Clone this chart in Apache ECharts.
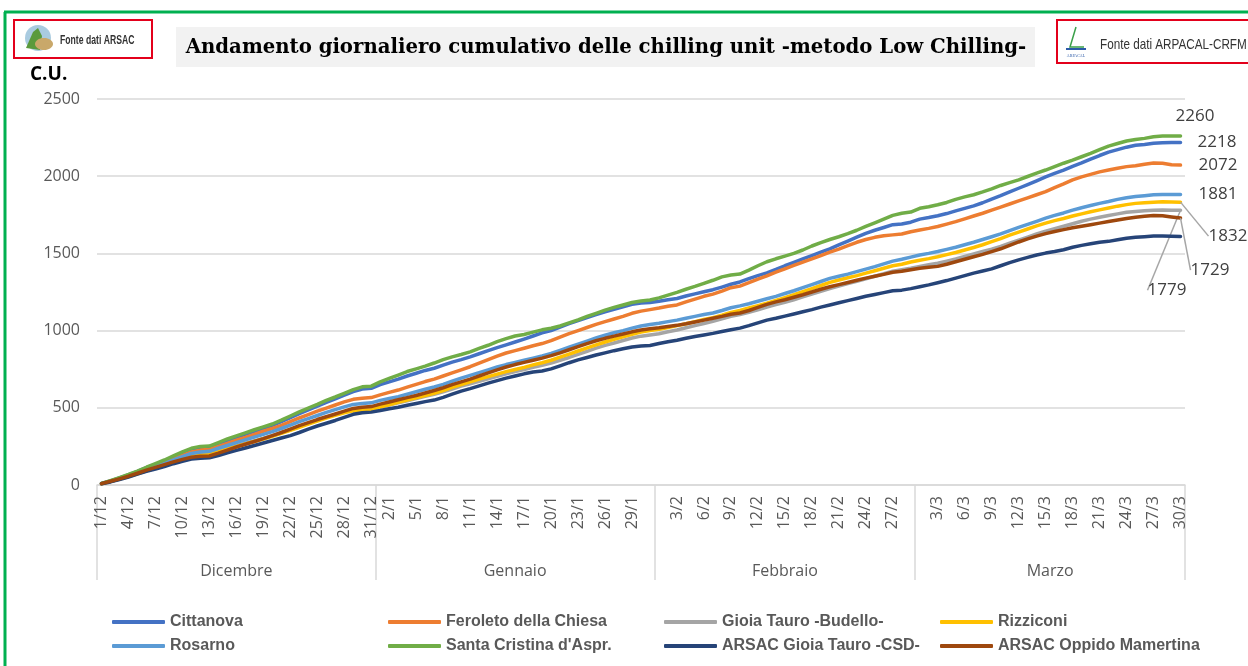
<!DOCTYPE html>
<html>
<head>
<meta charset="UTF-8">
<title>Chilling unit - Low Chilling</title>
<style>
  html, body { margin: 0; padding: 0; background: #fff; }
  #main { width: 1248px; height: 666px; }
</style>
</head>
<body>
<div id="main"></div>
<script src="https://cdn.jsdelivr.net/npm/echarts@6.0.0/dist/echarts.min.js"></script>
<script>
// mesi dell'asse X (etichette di gruppo)
var monthNames = ['Dicembre', 'Gennaio', 'Febbraio', 'Marzo'];
var monthNums = [12, 1, 2, 3];
var monthDays = [31, 31, 29, 30];

// etichette giornaliere visibili sull'asse
var tickLabels = [
  '1/12', '4/12', '7/12', '10/12', '13/12', '16/12', '19/12', '22/12', '25/12', '28/12', '31/12',
  '2/1', '5/1', '8/1', '11/1', '14/1', '17/1', '20/1', '23/1', '26/1', '29/1',
  '3/2', '6/2', '9/2', '12/2', '15/2', '18/2', '21/2', '24/2', '27/2',
  '3/3', '6/3', '9/3', '12/3', '15/3', '18/3', '21/3', '24/3', '27/3', '30/3'
];

var stationNames = [
  'Cittanova', 'Feroleto della Chiesa', 'Gioia Tauro -Budello-', 'Rizziconi',
  'Rosarno', "Santa Cristina d'Aspr.", 'ARSAC Gioia Tauro -CSD-', 'ARSAC Oppido Mamertina'
];

// chilling unit cumulative (1/12 -> 30/3)
var cittanova = [
  10, 27, 46, 66, 88, 112, 134, 157, 182, 206, 230, 242, 244, 266, 288, 308, 328, 348, 366, 386, 410, 436, 462, 486, 510, 535, 558, 582, 605, 622, 626,
  650, 668, 686, 706, 724, 742, 756, 776, 796, 812, 830, 850, 870, 890, 908, 926, 945, 965, 985, 1000, 1022, 1045, 1065, 1085, 1103, 1122, 1138, 1154, 1170, 1178, 1182,
  1190, 1200, 1208, 1224, 1238, 1252, 1265, 1282, 1300, 1315, 1336, 1356, 1374, 1396, 1420, 1442, 1464, 1486, 1508, 1530, 1555, 1580, 1605, 1630, 1650, 1668, 1686, 1690, 1702,
  1722, 1732, 1744, 1758, 1775, 1792, 1808, 1828, 1852, 1874, 1898, 1922, 1946, 1970, 1995, 2018, 2040, 2064, 2086, 2110, 2134, 2156, 2172, 2188, 2200, 2206, 2214, 2216, 2218, 2218
];
var feroleto = [
  9, 25, 43, 62, 82, 104, 125, 146, 170, 192, 214, 226, 230, 250, 270, 290, 308, 328, 348, 366, 386, 410, 434, 456, 478, 498, 518, 538, 555, 562, 566,
  584, 600, 615, 634, 652, 670, 686, 706, 726, 746, 766, 790, 812, 835, 855, 870, 886, 902, 916, 935, 958, 980, 1000, 1020, 1040, 1058, 1075, 1092, 1112, 1126, 1136,
  1146, 1158, 1166, 1186, 1204, 1222, 1236, 1256, 1278, 1288, 1310, 1334, 1354, 1378, 1400, 1422, 1444, 1464, 1486, 1508, 1528, 1550, 1572, 1590, 1604, 1614, 1620, 1626, 1640,
  1652, 1662, 1674, 1690, 1706, 1724, 1742, 1760, 1780, 1800, 1820, 1840, 1860, 1880, 1900, 1926, 1950, 1976, 1996, 2012, 2028, 2040, 2052, 2062, 2068, 2078, 2085, 2084, 2074, 2072
];
var budello = [
  8, 22, 39, 56, 74, 93, 112, 130, 150, 169, 188, 197, 200, 218, 236, 254, 270, 286, 302, 320, 338, 358, 378, 398, 418, 438, 456, 474, 486, 490, 494,
  508, 520, 532, 546, 560, 574, 588, 604, 622, 640, 656, 672, 688, 704, 720, 734, 748, 762, 776, 790, 808, 826, 846, 866, 886, 904, 920, 936, 952, 964, 972,
  980, 992, 1004, 1018, 1032, 1046, 1060, 1076, 1092, 1104, 1118, 1134, 1152, 1168, 1184, 1200, 1218, 1236, 1254, 1272, 1288, 1304, 1320, 1336, 1352, 1368, 1384, 1394, 1404,
  1416, 1426, 1436, 1450, 1464, 1480, 1496, 1512, 1528, 1546, 1566, 1586, 1606, 1626, 1644, 1660, 1676, 1692, 1708, 1722, 1734, 1746, 1756, 1766, 1772, 1776, 1779, 1781, 1780, 1779
];
var rizziconi = [
  8, 22, 38, 55, 73, 92, 110, 128, 148, 166, 184, 193, 196, 214, 232, 250, 266, 282, 298, 315, 334, 354, 374, 394, 414, 434, 452, 468, 480, 484, 488,
  505, 520, 535, 550, 565, 580, 594, 612, 632, 650, 668, 686, 702, 718, 734, 748, 762, 778, 792, 808, 828, 848, 868, 888, 908, 926, 944, 960, 976, 990, 1000,
  1008, 1020, 1032, 1044, 1058, 1072, 1084, 1100, 1118, 1130, 1146, 1162, 1178, 1196, 1214, 1232, 1252, 1272, 1292, 1312, 1328, 1342, 1356, 1372, 1388, 1404, 1420, 1430, 1444,
  1456, 1466, 1478, 1492, 1506, 1522, 1538, 1556, 1576, 1596, 1618, 1638, 1658, 1678, 1696, 1712, 1726, 1742, 1756, 1770, 1782, 1794, 1806, 1816, 1824, 1828, 1832, 1834, 1833, 1832
];
var rosarno = [
  9, 25, 42, 60, 80, 100, 120, 140, 162, 183, 204, 214, 218, 238, 256, 274, 292, 310, 328, 346, 366, 388, 410, 430, 450, 470, 488, 506, 522, 528, 532,
  548, 560, 572, 588, 604, 620, 635, 652, 672, 692, 710, 728, 746, 764, 780, 794, 808, 822, 836, 852, 872, 892, 912, 932, 952, 970, 986, 1000, 1016, 1030, 1040,
  1048, 1058, 1068, 1080, 1092, 1104, 1114, 1130, 1148, 1160, 1174, 1190, 1206, 1222, 1240, 1258, 1278, 1298, 1318, 1338, 1352, 1366, 1382, 1398, 1414, 1432, 1450, 1462, 1476,
  1490, 1500, 1512, 1526, 1540, 1556, 1572, 1590, 1608, 1626, 1648, 1668, 1688, 1708, 1728, 1746, 1762, 1780, 1796, 1810, 1824, 1836, 1850, 1860, 1868, 1874, 1880, 1882, 1881, 1881
];
var santaCristina = [
  10, 28, 48, 68, 90, 115, 138, 162, 188, 214, 238, 250, 252, 275, 298, 318, 338, 358, 376, 395, 420, 447, 474, 498, 522, 548, 570, 594, 618, 636, 640,
  668, 690, 712, 735, 752, 770, 790, 812, 830, 845, 862, 885, 905, 928, 948, 965, 975, 990, 1005, 1015, 1030, 1050, 1070, 1092, 1112, 1133, 1150, 1166, 1182, 1192, 1198,
  1212, 1230, 1248, 1268, 1286, 1306, 1326, 1348, 1360, 1366, 1392, 1420, 1446, 1465, 1482, 1500, 1522, 1548, 1570, 1590, 1608, 1628, 1650, 1675, 1698, 1722, 1746, 1760, 1768,
  1792, 1802, 1815, 1830, 1850, 1866, 1880, 1898, 1918, 1940, 1958, 1976, 1998, 2020, 2040, 2062, 2084, 2104, 2126, 2148, 2172, 2195, 2212, 2228, 2238, 2245, 2256, 2260, 2260, 2260
];
var gioiaCsd = [
  8, 20, 36, 52, 70, 88, 104, 120, 138, 154, 168, 174, 176, 190, 208, 224, 240, 256, 272, 288, 304, 320, 340, 362, 382, 400, 418, 438, 458, 468, 472,
  482, 494, 504, 516, 528, 540, 550, 568, 588, 608, 624, 642, 660, 676, 692, 706, 720, 732, 738, 752, 772, 792, 810, 826, 842, 856, 870, 882, 894, 900, 904,
  916, 928, 938, 950, 962, 972, 982, 994, 1006, 1016, 1032, 1050, 1068, 1080, 1094, 1108, 1122, 1136, 1152, 1166, 1180, 1194, 1208, 1222, 1234, 1246, 1258, 1262, 1272,
  1284, 1296, 1310, 1324, 1340, 1356, 1372, 1386, 1400, 1420, 1440, 1458, 1474, 1490, 1502, 1512, 1524, 1540, 1552, 1562, 1572, 1578, 1588, 1598, 1604, 1608, 1612, 1612, 1611, 1610
];
var oppido = [
  9, 24, 40, 57, 76, 96, 114, 132, 150, 166, 180, 186, 188, 206, 226, 246, 264, 282, 300, 320, 340, 362, 384, 404, 424, 442, 460, 478, 496, 504, 508,
  524, 538, 552, 566, 580, 596, 612, 630, 650, 668, 686, 706, 726, 746, 764, 780, 794, 808, 822, 838, 856, 876, 896, 916, 934, 950, 964, 978, 992, 1004, 1012,
  1018, 1026, 1034, 1044, 1056, 1068, 1080, 1092, 1106, 1114, 1130, 1150, 1170, 1186, 1200, 1216, 1232, 1250, 1268, 1284, 1298, 1312, 1326, 1340, 1352, 1364, 1378, 1384, 1394,
  1404, 1410, 1416, 1430, 1446, 1462, 1478, 1494, 1512, 1530, 1552, 1574, 1594, 1612, 1628, 1642, 1654, 1666, 1676, 1686, 1696, 1706, 1716, 1726, 1734, 1740, 1745, 1744, 1736, 1729
];

var seriesValues = [cittanova, feroleto, budello, rizziconi, rosarno, santaCristina, gioiaCsd, oppido];
var seriesColors = ['#4472C4', '#ED7D31', '#A5A5A5', '#FFC000', '#5B9BD5', '#70AD47', '#264478', '#9E480E'];

// categorie giornaliere d/m
var days = [];
for (var m = 0; m < monthNames.length; m++) {
  for (var d = 1; d <= monthDays[m]; d++) {
    days.push(d + '/' + monthNums[m]);
  }
}

// confini e centri dei mesi sull'asse ausiliario
var monthEdges = [0];
var monthCenters = [];
for (var k = 0; k < monthDays.length; k++) {
  monthCenters.push(monthEdges[k] + monthDays[k] / 2);
  monthEdges.push(monthEdges[k] + monthDays[k]);
}

// posizione etichette finali (offset semplice o con linea guida)
var endLabelCfg = [
  { offset: [12, 0] },
  { offset: [13, 0] },
  { layout: { dx: -38, dy: 80 } },
  { layout: { dx: 23, dy: 34 } },
  { offset: [13, 0] },
  { offset: [-10, -20] },
  null,
  { layout: { dx: 5, dy: 52 } }
];

var series = [];
stationNames.forEach(function (name, i) {
  var vals = seriesValues[i];
  var data = vals.map(function (v, j) {
    if (j === vals.length - 1 && endLabelCfg[i]) {
      return { value: v, label: { show: true, position: 'right', offset: endLabelCfg[i].offset || [0, 0] } };
    }
    return v;
  });
  var s = {
    name: name,
    type: 'line',
    data: data,
    symbol: 'circle',
    symbolSize: 0,
    showSymbol: true,
    showAllSymbol: true,
    smooth: false,
    color: seriesColors[i],
    lineStyle: { width: 3.5, color: seriesColors[i], cap: 'round', join: 'round' },
    label: { show: false, color: '#404040', fontSize: 17, fontFamily: 'Open Sans' },
    emphasis: { disabled: true },
    z: 2 + i
  };
  if (endLabelCfg[i] && endLabelCfg[i].layout) {
    s.labelLayout = endLabelCfg[i].layout;
    s.labelLine = { show: true, lineStyle: { color: '#a6a6a6', width: 1.5 } };
  }
  series.push(s);
});

// legenda su due righe, quattro colonne
var legendCols = [112, 388, 664, 940];
var legendRows = [614, 638];
var legends = stationNames.map(function (name, i) {
  return {
    data: [name],
    left: legendCols[i % 4],
    top: legendRows[Math.floor(i / 4)],
    padding: 0,
    icon: 'roundRect',
    itemWidth: 53,
    itemHeight: 4,
    selectedMode: false,
    textStyle: { fontFamily: 'Liberation Sans', fontWeight: 'bold', fontSize: 16, color: '#595959' }
  };
});

var chart = echarts.init(document.getElementById('main'), null, { renderer: 'canvas' });

var option = {
  animation: false,
  backgroundColor: '#fff',
  grid: { left: 97, right: 63, top: 99, bottom: 181, containLabel: false, outerBoundsMode: 'none' },
  legend: legends,
  xAxis: [{
    type: 'category',
    data: days,
    boundaryGap: true,
    axisLine: { lineStyle: { color: '#d9d9d9', width: 1.5 } },
    axisTick: { show: false },
    axisLabel: {
      rotate: 90,
      margin: 11,
      fontSize: 16,
      fontFamily: 'Open Sans',
      color: '#595959',
      interval: function (idx, value) { return tickLabels.indexOf(value) >= 0; }
    },
    splitLine: { show: false }
  }, {
    type: 'value',
    position: 'bottom',
    min: 0,
    max: monthEdges[monthEdges.length - 1],
    axisLine: { show: false, onZero: false },
    axisTick: { show: true, customValues: monthEdges, length: 95, lineStyle: { color: '#d9d9d9', width: 1.5 } },
    axisLabel: {
      customValues: monthCenters,
      margin: 78,
      fontSize: 16,
      fontFamily: 'Open Sans',
      color: '#595959',
      formatter: function (v) { return monthNames[monthCenters.indexOf(v)] || ''; }
    },
    splitLine: { show: false }
  }],
  yAxis: {
    type: 'value',
    min: 0,
    max: 2500,
    interval: 500,
    axisLine: { show: false },
    axisTick: { show: false },
    axisLabel: {
      margin: 17, fontSize: 16, fontFamily: 'Open Sans', color: '#595959',
      formatter: function (v) { return String(v); }
    },
    splitLine: { lineStyle: { color: '#d9d9d9', width: 1.5 } }
  },
  series: series,
  graphic: [
    // cornice verde
    { type: 'line', shape: { x1: 5, y1: 12, x2: 5, y2: 666 }, style: { stroke: '#00b050', lineWidth: 3 } },
    { type: 'line', shape: { x1: 4, y1: 12, x2: 1248, y2: 12 }, style: { stroke: '#00b050', lineWidth: 3 } },
    // titolo
    { type: 'rect', shape: { x: 176, y: 27, width: 859, height: 40 }, style: { fill: '#f2f2f2' } },
    {
      type: 'text', x: 606, y: 48,
      style: {
        text: 'Andamento giornaliero cumulativo delle chilling unit -metodo Low Chilling-',
        font: 'bold 19.7px "DejaVu Serif"', fill: '#000', align: 'center', verticalAlign: 'middle'
      }
    },
    // unità di misura
    { type: 'text', x: 30, y: 75, style: { text: 'C.U.', font: 'bold 19px "Open Sans"', fill: '#000', verticalAlign: 'middle' } },
    // logo ARSAC
    { type: 'rect', shape: { x: 14, y: 20, width: 138, height: 38 }, style: { fill: '#fff', stroke: '#e3001b', lineWidth: 2 } },
    { type: 'circle', shape: { cx: 38, cy: 38, r: 13 }, style: { fill: '#a9cbe0' } },
    { type: 'polygon', shape: { points: [[26, 48], [33, 32], [38, 28], [42, 36], [40, 50]] }, style: { fill: '#5a9a3c' } },
    { type: 'ellipse', shape: { cx: 44, cy: 44, rx: 9, ry: 6 }, style: { fill: '#c9a86a' } },
    { type: 'text', x: 60, y: 41, scaleX: 0.72, style: { text: 'Fonte dati ARSAC', font: 'bold 12px "Liberation Sans"', fill: '#333', verticalAlign: 'middle' } },
    // logo ARPACAL
    { type: 'rect', shape: { x: 1057, y: 20, width: 200, height: 43 }, style: { fill: '#fff', stroke: '#e3001b', lineWidth: 2 } },
    { type: 'polyline', shape: { points: [[1076, 27], [1070, 47], [1084, 47]] }, style: { stroke: '#3aa04a', lineWidth: 1.5, fill: null } },
    { type: 'line', shape: { x1: 1066, y1: 49, x2: 1086, y2: 49 }, style: { stroke: '#2b5aa8', lineWidth: 2 } },
    { type: 'text', x: 1076, y: 56, style: { text: 'ARPACAL', font: '4px "Liberation Serif"', fill: '#2b5aa8', align: 'center', verticalAlign: 'middle' } },
    { type: 'text', x: 1100, y: 45, scaleX: 0.78, style: { text: 'Fonte dati ARPACAL-CRFM', font: '15px "Liberation Sans"', fill: '#333', verticalAlign: 'middle' } }
  ]
};

chart.setOption(option);
</script>
</body>
</html>
